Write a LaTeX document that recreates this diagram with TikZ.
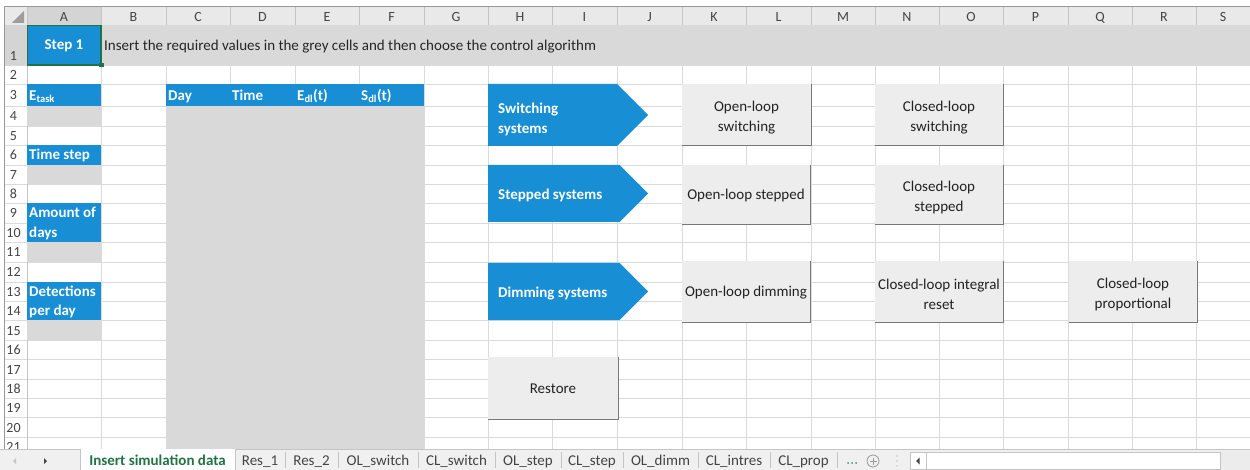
\documentclass[tikz,border=0pt]{standalone}
\usepackage{fontspec}
\setmainfont{Carlito}
\definecolor{xlblue}{RGB}{24,142,212}
\definecolor{cellgrey}{RGB}{217,217,217}
\definecolor{gridline}{RGB}{218,218,218}
\definecolor{hdrfill}{RGB}{233,233,233}
\definecolor{hdrsel}{RGB}{212,212,212}
\definecolor{hdrline}{RGB}{196,196,196}
\definecolor{hdrtext}{RGB}{68,68,68}
\definecolor{xlgreen}{RGB}{33,115,70}
\definecolor{btnface}{RGB}{237,237,237}
\definecolor{btnshade}{RGB}{120,120,120}
\definecolor{btntext}{RGB}{34,34,34}
\definecolor{tabbar}{RGB}{240,240,240}
\newcommand\cellfont{\fontsize{15}{20}\selectfont}
\newcommand\hdrfont{\fontsize{14}{16}\selectfont}
\newcommand\tabfont{\fontsize{15}{17}\selectfont}
\tikzset{
  grid/.style={draw=gridline, line width=0.8pt},
  bluecell/.style={fill=xlblue},
  greycell/.style={fill=cellgrey},
  fixedline/.style={text height=11pt, text depth=1pt},
  celltext/.style={anchor=west, inner sep=0pt, fixedline, text=white, font=\cellfont\bfseries},
  colhdr/.style={inner sep=0pt, fixedline, text=hdrtext, font=\hdrfont},
  rowhdr/.style={inner sep=0pt, fixedline, text=hdrtext, font=\hdrfont},
  arrowshape/.style={fill=xlblue},
  arrowtext/.style={anchor=west, inner sep=0pt, align=left, text=white, font=\cellfont\bfseries},
  btn/.style={fill=btnface, inner sep=0pt, minimum width=128pt, minimum height=60pt},
  btnlabel/.style={inner sep=0pt, align=center, text=btntext, font=\cellfont},
  btnedge/.style={draw=btnshade, line width=1.3pt},
  tabtext/.style={inner sep=0pt, fixedline, text=hdrtext, font=\tabfont},
  tabsep/.style={draw=hdrline, line width=0.8pt},
}
\begin{document}
\begin{tikzpicture}[x=1pt,y=-1pt]
\useasboundingbox (0,0) rectangle (1250,470);
\fill[white] (0,0) rectangle (1250,470);

% ---- cell grid ----
\foreach \y in {65,84,106,126,145,165,184,203,223,242,262,282,301,320,340,359,379,398,417,437}
  \draw[grid] (27,\y) -- (1250,\y);
\foreach \x in {101,166,230,295,359,424,488,552,617,682,746,811,875,939,1003,1068,1132,1196}
  \draw[grid] (\x,25) -- (\x,449);

% ---- column headers ----
\fill[hdrfill] (4,7) rectangle (1250,25);
\fill[hdrsel] (27,7) rectangle (101,25);
\foreach \x in {27,101,166,230,295,359,424,488,552,617,682,746,811,875,939,1003,1068,1132,1196}
  \draw[tabsep] (\x,7) -- (\x,25);
\draw[draw=hdrline, line width=0.8pt] (4,25) -- (1250,25);
\draw[draw=gray!80, line width=1pt] (4,7) -- (1250,7);
\fill[hdrline!80!black] (24,11) -- (24,23) -- (12,23) -- cycle;
\foreach \x/\l in {64/A,133.5/B,198/C,262.5/D,327/E,391.5/F,456/G,520/H,584.5/I,649.5/J,714/K,778.5/L,843/M,907/N,971/O,1035.5/P,1100/Q,1164/R,1223/S}
  \node[colhdr] (col\l) at (\x,16.5) {\l};

% ---- row headers ----
\fill[hdrsel] (4,25) rectangle (27,65);
\foreach \y in {65,84,106,126,145,165,184,203,223,242,262,282,301,320,340,359,379,398,417,437}
  \draw[grid] (4,\y) -- (27,\y);
\draw[draw=hdrline, line width=0.8pt] (27,25) -- (27,449);
\draw[draw=gray!80, line width=1pt] (4,7) -- (4,449);
\foreach \n/\y in {1/56,2/74.5,3/95,4/116,5/135.5,6/155,7/174.5,8/193.5,9/213,10/232.5,11/252,12/272,13/291.5,14/310.5,15/330,16/349.5,17/369,18/388.5,19/407.5,20/427,21/446}
  \node[rowhdr] (row\n) at (13.5,\y) {\n};

% ---- row 1 ----
\fill[greycell] (101,25) rectangle (1250,65);
\fill[bluecell] (27,25) rectangle (101,65);
\node[inner sep=0pt, fixedline, text=white, font=\cellfont\bfseries] (step) at (64,45) {Step 1};
\node[anchor=west, inner sep=0pt, fixedline, text=black!85, font=\cellfont] (intro) at (104,45.5)
  {Insert the required values in the grey cells and then choose the control algorithm};
\draw[draw=xlgreen, line width=1.5pt] (27.5,25.5) rectangle (101,65);
\fill[xlgreen] (99,63) rectangle (103.5,67.5);

% ---- input cells, column A ----
\fill[bluecell] (27,84) rectangle (101,106);
\fill[greycell] (27,106) rectangle (101,126);
\fill[bluecell] (27,145) rectangle (101,165);
\fill[greycell] (27,165) rectangle (101,184);
\fill[bluecell] (27,203) rectangle (101,242);
\fill[greycell] (27,242) rectangle (101,262);
\fill[bluecell] (27,282) rectangle (101,320);
\fill[greycell] (27,320) rectangle (101,340);
\node[celltext] (etask) at (29,95.5) {E\textsubscript{task}};
\node[celltext] (tstep) at (29,155) {Time step};
\node[celltext] (amount) at (29,213) {Amount of};
\node[celltext] (days) at (29,232.5) {days};
\node[celltext] (detect) at (29,291.5) {Detections};
\node[celltext] (perday) at (29,310.5) {per day};

% ---- data table, columns C to F ----
\fill[bluecell] (166,84) rectangle (424,106);
\fill[greycell] (166,106) rectangle (424,449);
\node[celltext] (hday) at (168,95.5) {Day};
\node[celltext] (htime) at (232,95.5) {Time};
\node[celltext] (hedl) at (297,95.5) {E\textsubscript{dl}(t)};
\node[celltext] (hsdl) at (361,95.5) {S\textsubscript{dl}(t)};

% ---- system arrows ----
\fill[arrowshape] (488,84) -- (617,84) -- (648,115) -- (617,146) -- (488,146) -- cycle;
\fill[arrowshape] (488,165) -- (619.5,165) -- (648,193.5) -- (619.5,222) -- (488,222) -- cycle;
\fill[arrowshape] (488,263) -- (619.5,263) -- (648,291.5) -- (619.5,320) -- (488,320) -- cycle;
\node[arrowtext] (switching) at (498,119) {Switching\\systems};
\node[arrowtext, fixedline] (stepped) at (498,194.5) {Stepped systems};
\node[arrowtext, fixedline] (dimming) at (498,292.5) {Dimming systems};

% ---- control buttons ----
\node[btn, minimum width=129pt, minimum height=61pt] (olsw) at (746.5,114.5) {};
\node[btn, minimum height=61pt] (clsw) at (939,114.5) {};
\node[btn, minimum height=59pt] (olst) at (746,194.5) {};
\node[btn, minimum height=59pt] (clst) at (939,194.5) {};
\node[btn, minimum height=61pt] (oldi) at (746,291.5) {};
\node[btn, minimum height=61pt] (clir) at (939,291.5) {};
\node[btn, minimum height=61pt] (clpr) at (1133,291.5) {};
\node[btn, minimum width=130pt, minimum height=62pt] (restore) at (553,388) {};
\foreach \b in {olsw,clsw,olst,clst,oldi,clir,clpr,restore}
  \draw[btnedge] (\b.north east) -- (\b.south east) -- (\b.south west);
\node[btnlabel] (olswt) at ([yshift=-3pt]olsw.center) {Open-loop\\switching};
\node[btnlabel] (clswt) at ([yshift=-3pt]clsw.center) {Closed-loop\\switching};
\node[btnlabel, fixedline] (olstt) at (olst.center) {Open-loop stepped};
\node[btnlabel] (clstt) at ([yshift=-3pt]clst.center) {Closed-loop\\stepped};
\node[btnlabel, fixedline] (oldit) at (oldi.center) {Open-loop dimming};
\node[btnlabel] (clirt) at ([yshift=-3pt]clir.center) {Closed-loop integral\\reset};
\node[btnlabel] (clprt) at ([yshift=-3pt]clpr.center) {Closed-loop\\proportional};
\node[btnlabel, fixedline] (restoret) at (restore.center) {Restore};

% ---- sheet tab bar ----
\fill[tabbar] (0,449) rectangle (1250,470);
\draw[draw=hdrline, line width=0.8pt] (0,449) -- (80,449) (235,449) -- (1250,449);
\fill[white] (80,449) rectangle (235,470);
\draw[tabsep] (80,449) -- (80,470) (235,449) -- (235,470);
\node[inner sep=0pt, fixedline, text=xlgreen, font=\tabfont\bfseries] (tab0) at (157.5,460) {Insert simulation data};
\foreach \x in {285,338,418,495,561,623,698,770,837}
  \draw[tabsep] (\x,452) -- (\x,468);
\foreach \x/\t/\n in {260/Res\_1/t1,311.5/Res\_2/t2,378/OL\_switch/t3,456.5/CL\_switch/t4,528/OL\_step/t5,592/CL\_step/t6,660.5/OL\_dimm/t7,734/CL\_intres/t8,803.5/CL\_prop/t9}
  \node[tabtext] (\n) at (\x,460) {\t};
% scroll arrows
\fill[gray!45] (16,458) -- (16,464) -- (13,461) -- cycle;
\fill[hdrtext] (44,458) -- (44,464) -- (47,461) -- cycle;
% more sheets, new sheet, splitter
\foreach \x in {848,852,856}
  \fill[xlgreen!80] (\x,463) circle (1pt);
\draw[draw=gray!80, line width=0.8pt] (873,461) circle (6pt);
\draw[draw=gray!80, line width=0.8pt] (869.5,461) -- (876.5,461) (873,457.5) -- (873,464.5);
\foreach \y in {456,461,466}
  \fill[gray!45] (897,\y) circle (0.9pt);
% horizontal scroll bar
\fill[gray!15] (1220,451) rectangle (1250,470);
\draw[draw=hdrline, fill=white, line width=0.8pt] (910,452) rectangle (1220,469);
\draw[tabsep] (926,452) -- (926,469);
\fill[hdrtext] (919.5,457.5) -- (919.5,464.5) -- (916,461) -- cycle;
\end{tikzpicture}
\end{document}
